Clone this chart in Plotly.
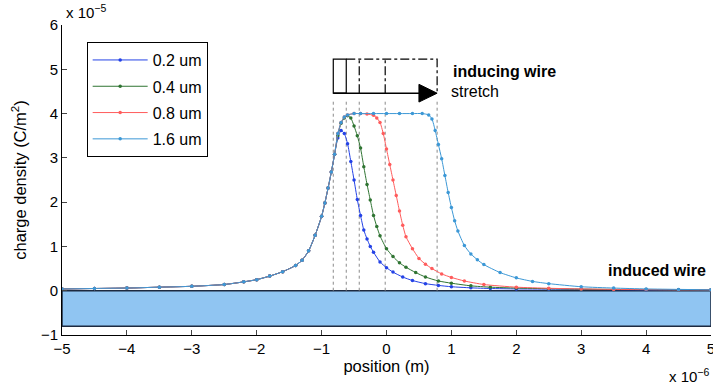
import plotly.graph_objects as go

# ---- data (position in um, charge density in 1e-5 C/m^2) ----
common_x = [-5, -4.5, -4, -3.5, -3, -2.5, -2.2, -2.0, -1.8, -1.6, -1.4, -1.3, -1.2,
            -1.1, -1.0, -0.95, -0.9, -0.85, -0.8]
common_y = [0.04, 0.05, 0.06, 0.08, 0.10, 0.14, 0.20, 0.25, 0.33, 0.43, 0.57, 0.69, 0.90,
            1.25, 1.68, 1.98, 2.32, 2.68, 3.08]

blue_x = [-0.75, -0.7, -0.65, -0.6, -0.55, -0.5, -0.45, -0.4, -0.35, -0.3, -0.25, -0.2,
          -0.1, 0.0, 0.1, 0.25, 0.4, 0.6, 0.8, 1.0, 1.3, 1.6, 2.0, 2.5, 3.0, 3.5, 4.0, 4.5, 5.0]
blue_y = [3.45, 3.62, 3.55, 3.32, 2.92, 2.5, 2.06, 1.7, 1.37, 1.17, 1.0, 0.87,
          0.65, 0.52, 0.42, 0.31, 0.23, 0.16, 0.12, 0.09, 0.065, 0.05, 0.04, 0.035, 0.03, 0.025, 0.02, 0.02, 0.02]

green_x = [-0.75, -0.7, -0.65, -0.6, -0.55, -0.5, -0.45, -0.4, -0.35, -0.3, -0.25, -0.2,
           -0.15, -0.1, 0.0, 0.1, 0.2, 0.3, 0.45, 0.6, 0.8, 1.0, 1.3, 1.6, 2.0, 2.5, 3.0, 3.5, 4.0, 4.5, 5.0]
green_y = [3.5, 3.78, 3.9, 3.95, 3.9, 3.72, 3.5, 3.22, 2.8, 2.4, 2.05, 1.7,
           1.45, 1.24, 0.95, 0.77, 0.63, 0.53, 0.41, 0.31, 0.22, 0.17, 0.11, 0.08, 0.06, 0.045, 0.035, 0.03, 0.025, 0.02, 0.02]

red_x = [-0.75, -0.7, -0.65, -0.6, -0.5, -0.4, -0.3, -0.2, -0.15, -0.1, -0.05, 0.0, 0.05,
         0.1, 0.15, 0.2, 0.25, 0.3, 0.4, 0.5, 0.6, 0.7, 0.85, 1.0, 1.2, 1.5, 2.0, 2.5, 3.0,
         3.5, 4.0, 4.5, 5.0]
red_y = [3.55, 3.8, 3.92, 3.97, 4.0, 4.0, 3.99, 3.96, 3.9, 3.8, 3.55, 3.2, 2.85,
         2.5, 2.15, 1.8, 1.48, 1.22, 0.95, 0.73, 0.6, 0.5, 0.38, 0.3, 0.22, 0.14, 0.08, 0.055, 0.04,
         0.03, 0.025, 0.02, 0.02]

cyan_x = [-0.75, -0.7, -0.65, -0.6, -0.5, -0.4, -0.2, 0.0, 0.2, 0.4, 0.55, 0.65, 0.7,
          0.75, 0.8, 0.85, 0.9, 0.95, 1.0, 1.05, 1.1, 1.2, 1.3, 1.4, 1.5, 1.75, 2.0, 2.25,
          2.5, 3.0, 3.5, 4.0, 4.5, 5.0]
cyan_y = [3.55, 3.8, 3.92, 3.97, 4.0, 4.0, 4.0, 4.0, 4.0, 4.0, 4.0, 3.97, 3.88,
          3.62, 3.3, 2.98, 2.6, 2.22, 1.88, 1.58, 1.35, 1.02, 0.83, 0.7, 0.59, 0.41, 0.29, 0.21,
          0.16, 0.09, 0.06, 0.04, 0.03, 0.02]

series_names = ["0.2 um", "0.4 um", "0.8 um", "1.6 um"]
series_x = [blue_x, green_x, red_x, cyan_x]
series_y = [blue_y, green_y, red_y, cyan_y]
colors = ["#2442e6", "#2f7432", "#ff5c5c", "#3c98d6"]

wire_start = -0.82
wire_lengths = [0.2, 0.4, 0.8, 1.6]
wire_bottom, wire_top = 4.46, 5.23
guide_top = 4.33
induced_bottom, induced_top = -0.8, 0.0

x_ticks = [-5, -4, -3, -2, -1, 0, 1, 2, 3, 4, 5]
y_ticks = [-1, 0, 1, 2, 3, 4, 5, 6]

FONT = "Arial, Liberation Sans, Helvetica, sans-serif"

fig = go.Figure()

# induced wire block
fig.add_shape(type="rect", x0=-5, x1=5, y0=induced_bottom, y1=induced_top,
              fillcolor="#90c5f2", line=dict(color="#1d2a40", width=1.5), layer="below")

# guide dotted lines
for L in [0.0] + wire_lengths:
    xe = wire_start + L
    fig.add_shape(type="line", x0=xe, x1=xe, y0=0, y1=guide_top,
                  line=dict(color="#8a8a8a", width=1, dash="dot"), layer="below")

for i, (name, xs, ys) in enumerate(zip(series_names, series_x, series_y)):
    fig.add_trace(go.Scatter(
        x=common_x + xs, y=common_y + ys, mode="lines+markers", name=name,
        legendgroup=name, line=dict(color=colors[i], width=1, shape="spline", smoothing=0.6),
        marker=dict(color=colors[i], size=3.5, symbol="circle")))

# inducing wire graphic
fig.add_shape(type="rect", x0=wire_start, x1=wire_start + wire_lengths[0],
              y0=wire_bottom, y1=wire_top, line=dict(color="black", width=1.2))
x_end = wire_start + wire_lengths[-1]
fig.add_shape(type="path",
              path=f"M {wire_start + wire_lengths[0]},{wire_top} L {x_end},{wire_top} L {x_end},{wire_bottom}",
              line=dict(color="black", width=1.2, dash="dashdot"))
for L in wire_lengths[1:3]:
    xe = wire_start + L
    fig.add_shape(type="line", x0=xe, x1=xe, y0=wire_bottom, y1=wire_top,
                  line=dict(color="black", width=1.2, dash="dashdot"))
# arrow
fig.add_shape(type="line", x0=wire_start, x1=x_end - 0.2, y0=wire_bottom, y1=wire_bottom,
              line=dict(color="black", width=1.5))
fig.add_shape(type="path",
              path=f"M {x_end - 0.28},{wire_bottom + 0.2} L {x_end},{wire_bottom} L {x_end - 0.28},{wire_bottom - 0.2} Z",
              fillcolor="black", line=dict(color="black", width=1))

fig.add_annotation(x=1.0, y=4.94, text="<b>inducing wire</b>", showarrow=False,
                   xanchor="left", yanchor="middle", font=dict(size=16, color="black", family=FONT))
fig.add_annotation(x=0.97, y=4.5, text="stretch", showarrow=False,
                   xanchor="left", yanchor="middle", font=dict(size=16, color="black", family=FONT))
fig.add_annotation(x=4.95, y=0.45, text="<b>induced wire</b>", showarrow=False,
                   xanchor="right", yanchor="middle", font=dict(size=16, color="black", family=FONT))

# exponent labels
fig.add_annotation(xref="paper", yref="paper", x=0.003, y=1.0, yshift=2,
                   text="x 10<sup>−5</sup>", showarrow=False, xanchor="left", yanchor="bottom",
                   font=dict(size=15, color="black", family=FONT))
fig.add_annotation(xref="paper", yref="paper", x=1.0, y=0, yshift=-29,
                   text="x 10<sup>−6</sup>", showarrow=False, xanchor="right", yanchor="top",
                   font=dict(size=15, color="black", family=FONT))

fig.update_layout(
    width=713, height=389,
    margin=dict(l=62, r=2, t=25, b=54),
    paper_bgcolor="white", plot_bgcolor="white",
    font=dict(family=FONT, size=15, color="black"),
    showlegend=True,
    legend=dict(x=0.038, y=0.945, xanchor="left", yanchor="top",
                bgcolor="white", bordercolor="black", borderwidth=1,
                font=dict(size=16), tracegroupgap=2.5, itemwidth=55),
    xaxis=dict(range=[-5, 5], tickvals=x_ticks, ticks="inside", ticklen=5,
               showline=True, linecolor="black", linewidth=1, showgrid=False, zeroline=False,
               automargin=False, ticklabeloverflow="allow",
               title=dict(text="position (m)", font=dict(size=16.5), standoff=4),
               tickfont=dict(size=15)),
    yaxis=dict(range=[-1, 6], tickvals=y_ticks, ticks="inside", ticklen=5,
               showline=True, linecolor="black", linewidth=1, showgrid=False, zeroline=False,
               automargin=False, ticklabeloverflow="allow",
               title=dict(text="charge density (C/m<sup>2</sup>)", font=dict(size=16.5), standoff=10),
               tickfont=dict(size=15)),
)

fig.write_html("out.html", config={"displayModeBar": False})

# remove default page margin so the figure sits at the window's top-left corner
with open("out.html", "r", encoding="utf-8") as f:
    html = f.read()
html = html.replace("<body>", '<body style="margin:0;padding:0;">', 1)
with open("out.html", "w", encoding="utf-8") as f:
    f.write(html)
